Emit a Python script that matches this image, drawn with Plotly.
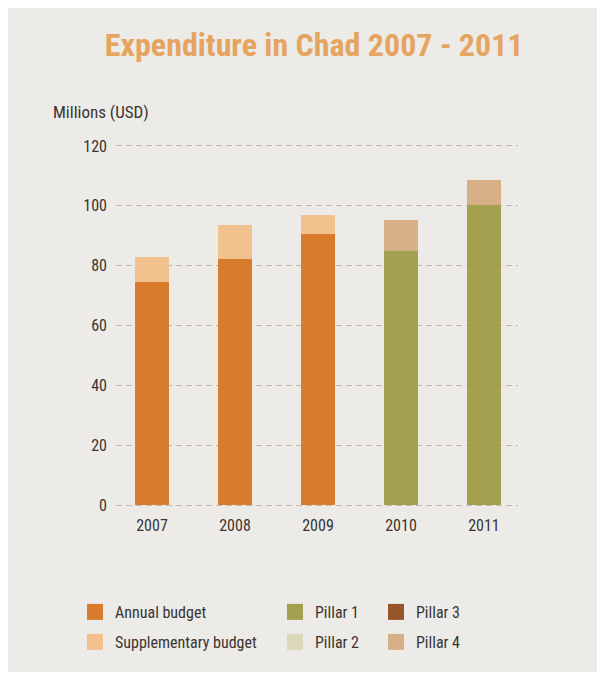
import plotly.graph_objects as go

years = ["2007", "2008", "2009", "2010", "2011"]
annual_budget = [74.5, 82.3, 90.5, None, None]
supplementary_budget = [8.3, 11.2, 6.4, None, None]
pillar1 = [None, None, None, 85.0, 100.2]
pillar2 = [None, None, None, 0, 0]
pillar3 = [None, None, None, 0, 0]
pillar4 = [None, None, None, 10.4, 8.6]
yticks = [0, 20, 40, 60, 80, 100, 120]

W, H = 603, 677
L, R, T, B = 116, 85, 143, 169
PW, PH = W - L - R, H - T - B
FONT = "Liberation Sans Narrow, Roboto Condensed, Arial Narrow, Roboto, sans-serif"
TXT = "#3a3432"

# name, values, colour, legend id, legend left x (px), legend row y (px)
series = [
    ("Annual budget", annual_budget, "#d97b2c", "legend", 75, 612),
    ("Supplementary budget", supplementary_budget, "#f2c28e", "legend2", 75, 642),
    ("Pillar 1", pillar1, "#a3a150", "legend3", 275, 612),
    ("Pillar 2", pillar2, "#dcd9ba", "legend4", 275, 642),
    ("Pillar 3", pillar3, "#975629", "legend5", 376, 612),
    ("Pillar 4", pillar4, "#d8b087", "legend6", 376, 642),
]


def px(x):
    return (x - L) / PW


def py(y):
    return (H - B - y) / PH


fig = go.Figure()
legends = {}
for name, vals, col, lg, lx, ly in series:
    fig.add_trace(go.Bar(x=years, y=vals, name=name, marker=dict(color=col, line=dict(width=0)),
                         width=0.4, showlegend=False))
    fig.add_trace(go.Scatter(x=[None], y=[None], mode="markers", name=name, legend=lg,
                             marker=dict(symbol="square", size=20, color=col), showlegend=True))
    legends[lg] = dict(x=px(lx), y=py(ly), xanchor="left", yanchor="middle",
                       font=dict(family=FONT, size=16, color=TXT), bgcolor="rgba(0,0,0,0)",
                       itemsizing="trace", itemwidth=30)

fig.update_layout(
    width=W, height=H,
    paper_bgcolor="white", plot_bgcolor="rgba(0,0,0,0)",
    barmode="stack", bargap=0,
    margin=dict(l=L, r=R, t=T, b=B, autoexpand=False),
    font=dict(family=FONT, size=16, color=TXT),
    title=dict(text="<b>Expenditure in Chad 2007 - 2011</b>", x=0.521, xanchor="center",
               y=1 - 45 / H, yanchor="middle", font=dict(family=FONT, size=32, color="#e6a461")),
    xaxis=dict(type="category", range=[-0.434, 4.41], showgrid=False, zeroline=False, showline=False,
               ticks="", tickfont=dict(size=16, color=TXT), ticklabelstandoff=6),
    yaxis=dict(range=[-1, 121], tickvals=yticks, showgrid=True, gridcolor="#c2b8b4", griddash="6px,4px",
               gridwidth=1, zeroline=False, showline=False, ticks="", tickfont=dict(size=16, color=TXT),
               ticklabelstandoff=8),
    shapes=[dict(type="rect", xref="paper", yref="paper", x0=px(8), x1=px(597), y0=py(672), y1=py(8),
                 layer="below", line=dict(width=0), fillcolor="#ecebe7")],
    annotations=[dict(text="Millions (USD)", xref="paper", yref="paper", x=px(51), y=py(112),
                      xanchor="left", yanchor="middle", showarrow=False,
                      font=dict(family=FONT, size=17, color=TXT))],
    **legends,
)
fig.write_html("out.html")
